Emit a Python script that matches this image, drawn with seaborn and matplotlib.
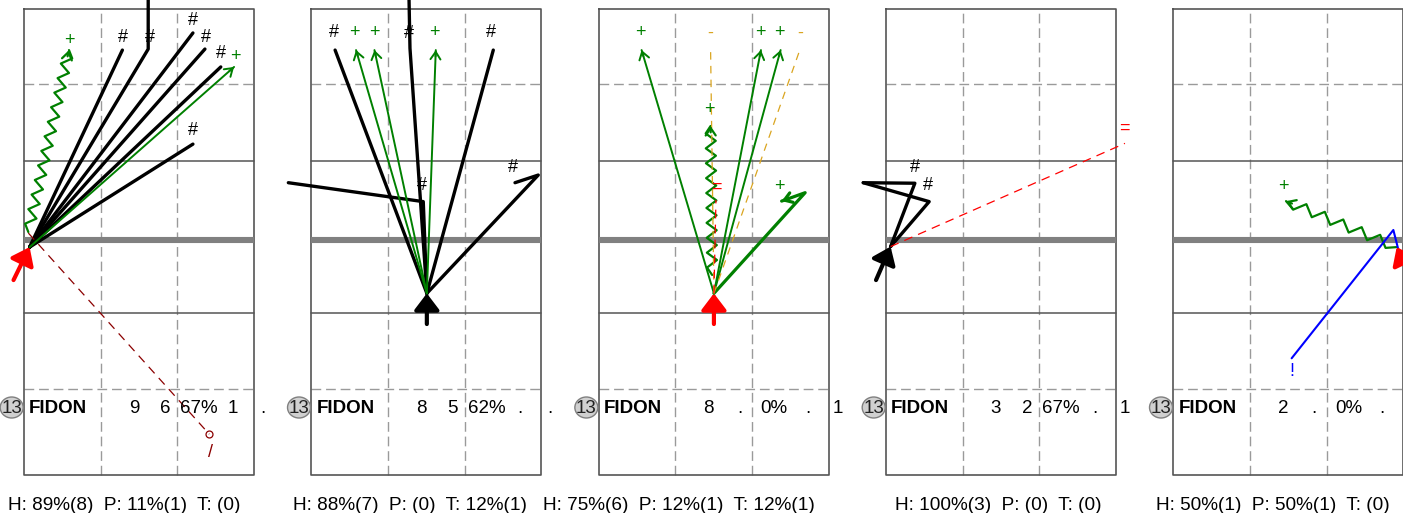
import numpy as np
import pandas as pd
import matplotlib
matplotlib.use("Agg")
import matplotlib.pyplot as plt
from matplotlib.patches import Ellipse
import seaborn as sns

# ---------------- data (court metres: x 0..9 across, net at y=0, opponent side y>0) ----------------
player_number = "13"
player_name = "FIDON"
row_values = [
    ["9", "6", "67%", "1", "."],
    ["8", "5", "62%", ".", "."],
    ["8", ".", "0%", ".", "1"],
    ["3", "2", "67%", ".", "1"],
    ["2", ".", "0%", "."],
]
summaries = [
    "H: 89%(8)  P: 11%(1)  T: (0)",
    "H: 88%(7)  P: (0)  T: 12%(1)",
    "H: 75%(6)  P: 12%(1)  T: 12%(1)",
    "H: 100%(3)  P: (0)  T: (0)",
    "H: 50%(1)  P: 50%(1)  T: (0)",
]
origins = [(0.22, -0.29), (4.52, -2.10), (4.51, -2.10), (0.18, -0.27), (8.74, -0.29)]
set_from = [(-0.41, -1.58), (4.52, -3.30), (4.51, -3.30), (-0.39, -1.58), (9.37, -1.58)]
set_colors = ["red", "black", "red", "black", "red"]

# (panel, evaluation code, path, label position)
attacks_p1 = [
    (0, "#", [origins[0], (3.85, 7.42)], (3.87, 7.93)),
    (0, "#", [origins[0], (4.86, 7.46), (4.86, 10.6)], (4.93, 7.93)),
    (0, "#", [origins[0], (6.61, 8.09)], (6.61, 8.56)),
    (0, "#", [origins[0], (7.08, 7.46)], (7.12, 7.93)),
    (0, "#", [origins[0], (7.70, 6.76)], (7.71, 7.27)),
    (0, "#", [origins[0], (6.61, 3.74)], (6.61, 4.29)),
    (0, "+", [origins[0], (8.22, 6.76)], (8.26, 7.15)),
    (0, "+~", [(0.17, 0.30), (1.76, 7.42)], (1.76, 7.81)),
    (0, "/", [(0.17, 0.26), (7.25, -7.61)], (7.28, -8.31)),
]
attacks_p2 = [
    (1, "#", [origins[1], (0.93, 7.42)], (0.90, 8.09)),
    (1, "#", [origins[1], (4.38, 1.49), (-0.90, 2.23)], (4.32, 2.14)),
    (1, "#", [origins[1], (3.86, 7.49), (3.80, 10.6)], (3.80, 8.08)),
    (1, "#", [origins[1], (7.12, 7.42)], (7.03, 8.09)),
    (1, "#", [origins[1], (8.88, 2.53), (7.97, 2.23)], (7.88, 2.82)),
    (1, "+", [origins[1], (1.75, 7.42)], (1.67, 8.09)),
    (1, "+", [origins[1], (2.47, 7.42)], (2.45, 8.09)),
    (1, "+", [origins[1], (4.87, 7.42)], (4.80, 8.09)),
]
attacks_p3 = [
    (2, "-", [origins[2], (4.38, 7.42)], (4.38, 8.09)),
    (2, "-", [origins[2], (7.88, 7.45)], (7.88, 8.09)),
    (2, "=", [origins[2], (4.59, 1.55)], (4.59, 2.06)),
    (2, "+", [origins[2], (1.68, 7.42)], (1.63, 8.09)),
    (2, "+", [origins[2], (6.35, 7.42)], (6.31, 8.09)),
    (2, "+", [origins[2], (7.12, 7.42)], (7.06, 8.09)),
    (2, "+~", [(4.44, -1.38), (4.38, 4.45)], (4.32, 5.08)),
    (2, "+", [origins[2], (8.08, 1.84), (7.16, 1.51)], (7.06, 2.07)),
]
attacks_p4 = [
    (3, "#", [origins[3], (1.13, 2.21), (-0.89, 2.23)], (1.13, 2.82)),
    (3, "#", [origins[3], (1.69, 1.49), (-0.89, 2.23)], (1.63, 2.14)),
    (3, "=", [origins[3], (9.35, 3.77)], (9.31, 4.36)),
]
attacks_p5 = [
    (4, "+~", [origins[4], (4.41, 1.51)], (4.30, 2.07)),
    (4, "!", [(8.79, -0.33), (8.61, 0.38), (4.63, -4.64)], (4.63, -5.17)),
]
attacks = attacks_p1 + attacks_p2 + attacks_p3 + attacks_p4 + attacks_p5

# ---------------- styling / layout ----------------
sns.set_theme(style="white")
plt.rcParams["font.family"] = ["Liberation Sans", "DejaVu Sans"]

W, H = 1403, 513
PX = 25.556            # pixels per metre
NET_PX = 239.7         # net line pixel row
CELL = 287.33
C_TOP, C_D1, C_3A, C_3B, C_D2, C_BOT = 9.03, 6.09, 3.08, -2.86, -5.83, -9.22

label_colors = {"#": "black", "+": "green", "+~": "green", "-": "goldenrod",
                "=": "red", "/": "darkred", "!": "blue"}


def zigzag(p0, p1, period, amp):
    p0, p1 = np.asarray(p0, float), np.asarray(p1, float)
    d = p1 - p0
    length = np.hypot(*d)
    u = d / length
    nrm = np.array([-u[1], u[0]])
    k = max(2, int(round(2 * length / period)))
    t = np.linspace(0, 1, k + 1)
    off = np.array([0.0] + [amp * (1 if i % 2 else -1) for i in range(1, k)] + [0.0])
    return p0 + np.outer(t, d) + np.outer(off, nrm)


# build a long table of path points
rows = []
for aid, (panel, code, path, lab) in enumerate(attacks):
    if code == "+~":
        period = (20 if panel == 4 else 15) / PX
        pts = zigzag(path[0], path[-1], period, 5.0 / PX)
    else:
        pts = np.asarray(path, float)
    for order, (x, y) in enumerate(pts):
        rows.append(dict(id=aid, panel=panel, code=code, npts=len(path), order=order, x=x, y=y))
pts_df = pd.DataFrame(rows)

fig = plt.figure(figsize=(W / 100, H / 100), dpi=100)

for p in range(5):
    L = 24 + CELL * p
    ax = fig.add_axes([(L - 24) / W, 0, CELL / W, 1])
    ax.set_xlim(-24 / PX, (CELL - 24) / PX)
    ax.set_ylim((NET_PX - H) / PX, NET_PX / PX)
    ax.axis("off")

    # court
    dash = (0, (7, 3.5))
    for xv in (3, 6):
        ax.plot([xv, xv], [C_BOT, C_TOP], color="#9a9a9a", lw=1.0, ls=dash, zorder=1)
    for yv in (C_D1, C_D2):
        ax.plot([0, 9], [yv, yv], color="#9a9a9a", lw=1.0, ls=dash, zorder=1)
    for yv in (C_3A, C_3B):
        ax.plot([0, 9], [yv, yv], color="#555555", lw=1.1, zorder=1)
    ax.plot([0, 9, 9, 0, 0], [C_TOP, C_TOP, C_BOT, C_BOT, C_TOP], color="#555555", lw=1.2, zorder=1)
    ax.plot([0, 9], [0, 0], color="#808080", lw=4.4, solid_capstyle="butt", zorder=2)

    sub = pts_df[pts_df.panel == p]
    groups = [
        (sub.code == "#", dict(color="black", lw=2.4)),
        ((sub.code == "+") & (sub.npts == 2), dict(color="green", lw=1.4)),
        ((sub.code == "+") & (sub.npts > 2), dict(color="green", lw=2.3)),
        (sub.code == "+~", dict(color="green", lw=1.6)),
        (sub.code == "-", dict(color="goldenrod", lw=0.9, linestyle=(0, (6, 5)))),
        (sub.code == "=", dict(color="red", lw=0.9, linestyle=(0, (7, 5)))),
        (sub.code == "/", dict(color="darkred", lw=0.9, linestyle=(0, (7, 5)))),
        (sub.code == "!", dict(color="blue", lw=1.5)),
    ]
    for mask, kw in groups:
        g = sub[mask]
        if len(g):
            sns.lineplot(data=g, x="x", y="y", units="id", estimator=None, sort=False,
                         ax=ax, legend=False, zorder=3, **kw)

    # arrowheads, end markers and labels
    for panel, code, path, lab in attacks:
        if panel != p:
            continue
        end = np.asarray(path[-1], float)
        if code in ("+", "+~"):
            if code == "+~":
                d = end - np.asarray(path[0], float)
            else:
                d = end - np.asarray(path[-2], float)
            u = d / np.hypot(*d)
            lw = 2.3 if len(path) > 2 else (1.6 if code == "+~" else 1.4)
            ax.annotate("", xy=end, xytext=end - 0.25 * u,
                        arrowprops=dict(arrowstyle="->,head_length=0.45,head_width=0.3",
                                        color="green", lw=lw, mutation_scale=12,
                                        shrinkA=0, shrinkB=0), zorder=4, annotation_clip=False)
        if code == "/":
            ax.plot([end[0]], [end[1]], marker="o", ms=5, mfc="none", mec="darkred", mew=0.9, zorder=4)
        ax.text(lab[0], lab[1], code[0], color=label_colors[code], fontsize=13,
                ha="center", va="center", zorder=5)

    # set arrow
    ax.annotate("", xy=origins[p], xytext=set_from[p],
                arrowprops=dict(arrowstyle="-|>,head_length=0.5,head_width=0.38",
                                color=set_colors[p], lw=3.0, mutation_scale=20,
                                shrinkA=0, shrinkB=0), zorder=6, annotation_clip=False)

    # player row
    ry = (NET_PX - 413.3) / PX
    cx, cy = -12.3 / PX, (NET_PX - 407.5) / PX
    ax.add_patch(Ellipse((cx, cy), 23 / PX, 21 / PX, facecolor="#d0d0d0",
                         edgecolor="#808080", lw=1.0, zorder=5, clip_on=False))
    ax.text(cx, ry, player_number, fontsize=13.5, ha="center", va="baseline", color="#222222", zorder=6)
    ax.text(5 / PX, ry, player_name, fontsize=13.5, fontweight="bold", ha="left", va="baseline",
            color="black", zorder=6)
    for xo, val in zip((110, 141, 175, 209, 239), row_values[p]):
        ax.text(xo / PX, ry, val, fontsize=13.5, ha="center", va="baseline", color="black", zorder=6)

    # summary
    ax.text(216 / PX, (NET_PX - 510) / PX, summaries[p], fontsize=13.7, ha="right",
            va="baseline", color="black", zorder=6)

    for ln in ax.get_lines():
        ln.set_clip_on(False)
    for t in ax.texts:
        t.set_clip_on(False)

fig.savefig("out.png", dpi=100)
